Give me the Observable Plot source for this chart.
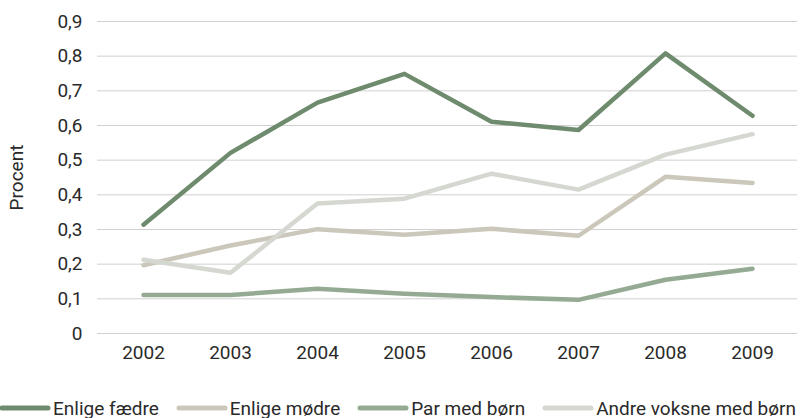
<!DOCTYPE html>
<html>
<head>
<meta charset="utf-8">
<script src="https://cdn.jsdelivr.net/npm/d3@7"></script>
<script src="https://cdn.jsdelivr.net/npm/@observablehq/plot@0.6"></script>
<style>
  html, body { margin: 0; padding: 0; background: #fff; }
  body { width: 801px; height: 418px; overflow: hidden; font-family: Roboto, "Open Sans", sans-serif; }
  #chart svg { display: block; }
  #legend { display: flex; justify-content: center; align-items: center; white-space: nowrap; height: 20px; margin-top: 28px; font-size: 19px; color: #2a2a2a; margin-left: -6px; }
  .item { display: flex; align-items: center; margin-right: 17px; }
  .item:last-child { margin-right: 0; }
  .item svg { display: block; margin-right: 2px; }
</style>
</head>
<body>
<div id="chart"></div>
<div id="legend"></div>
<script>
const years = ["2002","2003","2004","2005","2006","2007","2008","2009"];
const seriesNames = ["Enlige fædre","Enlige mødre","Par med børn","Andre voksne med børn"];
const enligeFaedre = [0.314,0.521,0.666,0.749,0.611,0.587,0.808,0.628];
const enligeMoedre = [0.197,0.254,0.301,0.285,0.302,0.282,0.452,0.434];
const parMedBoern  = [0.111,0.111,0.129,0.115,0.105,0.097,0.155,0.187];
const andreVoksne  = [0.213,0.175,0.375,0.389,0.461,0.415,0.516,0.575];
const colors = ["#6f8b6e","#cbc7bb","#95aa92","#d5d8d1"];
const yTicks = [0,0.1,0.2,0.3,0.4,0.5,0.6,0.7,0.8,0.9];

const values = [enligeFaedre, enligeMoedre, parMedBoern, andreVoksne];
const data = [];
seriesNames.forEach((s, i) => years.forEach((y, j) => data.push({series: s, year: y, value: values[i][j]})));

const fmt = d => String(d).replace(".", ",");

const chart = Plot.plot({
  width: 801,
  height: 370,
  marginLeft: 97,
  marginRight: 4,
  marginTop: 21,
  marginBottom: 37,
  style: {fontFamily: "Roboto, sans-serif", fontSize: "19px", color: "#2a2a2a", background: "#fff"},
  x: {type: "point", domain: years, padding: 0.5},
  y: {domain: [0, 0.9]},
  color: {domain: seriesNames, range: colors},
  marks: [
    Plot.gridY(yTicks, {stroke: "#d0d0d0", strokeOpacity: 1, strokeWidth: 1}),
    Plot.axisY(yTicks, {tickSize: 0, tickPadding: 15, tickFormat: fmt, label: "Procent", labelAnchor: "center", labelArrow: "none", labelOffset: 88, fill: "#2a2a2a"}),
    Plot.axisX({tickSize: 0, tickPadding: 12, label: null, fill: "#2a2a2a"}),
    Plot.line(data, {x: "year", y: "value", z: "series", stroke: "series", strokeWidth: 4.5, strokeLinecap: "round", strokeLinejoin: "round"})
  ]
});
document.getElementById("chart").appendChild(chart);

const legend = document.getElementById("legend");
seriesNames.forEach((s, i) => {
  const item = document.createElement("div");
  item.className = "item";
  item.innerHTML = `<svg width="52" height="8"><line x1="3" y1="4" x2="49" y2="4" stroke="${colors[i]}" stroke-width="5" stroke-linecap="round"/></svg><span>${s}</span>`;
  legend.appendChild(item);
});
</script>
</body>
</html>
